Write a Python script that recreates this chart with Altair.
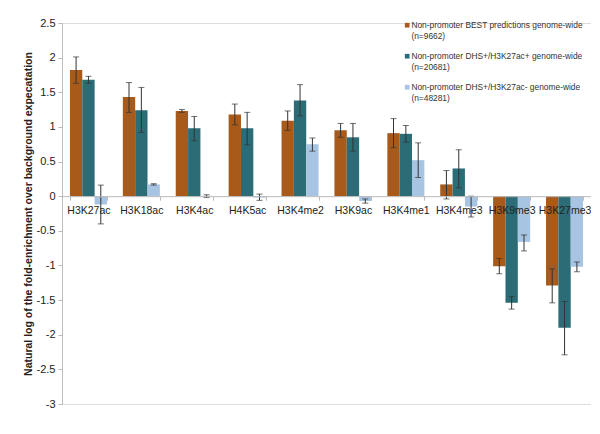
import altair as alt
import pandas as pd

categories = ["H3K27ac", "H3K18ac", "H3K4ac", "H4K5ac", "H3K4me2",
              "H3K9ac", "H3K4me1", "H3K4me3", "H3K9me3", "H3K27me3"]
series = [
    "Non-promoter BEST predictions genome-wide (n=9662)",
    "Non-promoter DHS+/H3K27ac+ genome-wide (n=20681)",
    "Non-promoter DHS+/H3K27ac- genome-wide (n=48281)",
]
colors = ["#A85A1A", "#2B6C77", "#A8C4E3"]
y_ticks = [2.5, 2, 1.5, 1, 0.5, 0, -0.5, -1, -1.5, -2, -2.5, -3]

best_val = [1.82, 1.43, 1.23, 1.18, 1.09, 0.95, 0.91, 0.17, -1.01, -1.29]
best_lo = [1.63, 1.21, 1.21, 1.03, 0.95, 0.85, 0.70, -0.04, -1.12, -1.54]
best_hi = [2.01, 1.64, 1.25, 1.33, 1.23, 1.05, 1.12, 0.37, -0.90, -1.05]

pos_val = [1.68, 1.24, 0.98, 0.98, 1.38, 0.85, 0.90, 0.40, -1.54, -1.90]
pos_lo = [1.63, 0.92, 0.80, 0.74, 1.16, 0.65, 0.78, 0.12, -1.63, -2.29]
pos_hi = [1.73, 1.57, 1.15, 1.21, 1.61, 1.05, 1.02, 0.67, -1.45, -1.52]

neg_val = [-0.12, 0.17, 0.005, -0.02, 0.75, -0.07, 0.52, -0.15, -0.66, -1.02]
neg_lo = [-0.40, 0.16, -0.02, -0.06, 0.65, -0.10, 0.27, -0.30, -0.79, -1.09]
neg_hi = [0.16, 0.18, 0.02, 0.03, 0.84, -0.04, 0.77, 0.00, -0.56, -0.95]

rows = []
for s, vals, los, his in zip(series,
                             [best_val, pos_val, neg_val],
                             [best_lo, pos_lo, neg_lo],
                             [best_hi, pos_hi, neg_hi]):
    for c, v, lo, hi in zip(categories, vals, los, his):
        rows.append({"mark": c, "series": s, "value": v, "lo": lo, "hi": hi})
df = pd.DataFrame(rows)

W, H = 529, 381
y_min, y_max = -3, 2.5
zero_offset = -H * (0 - y_min) / (y_max - y_min)

font = "Liberation Sans"
y_title = "Natural log of the fold-enrichment over background expecatation"

x_axis = alt.Axis(
    labelAngle=0, offset=zero_offset, zindex=1,
    domainColor="#bbbbbb", tickColor="#bbbbbb", tickSize=4,
    tickBand="extent", labelFontSize=10.5, labelColor="#222222",
    labelFont=font, labelPadding=5,
)
y_axis = alt.Axis(
    values=y_ticks, labelExpr="'' + datum.value", grid=False,
    labelOverlap=False, labelFlush=False,
    domainColor="#bbbbbb", tickColor="#bbbbbb", tickSize=4,
    labelFontSize=11, labelColor="#222222", labelFont=font,
    labelPadding=3, titleFont=font, titleFontSize=10.5,
    titleFontWeight="bold", titleColor="#222222", titlePadding=3,
)
x_scale = alt.Scale(paddingInner=0.3, paddingOuter=0.15)
y_scale = alt.Scale(domain=[y_min, y_max], nice=False, zero=False)


def xenc():
    return alt.X("mark:N", sort=categories, title=None, scale=x_scale, axis=x_axis)


def yenc(field):
    return alt.Y(field, scale=y_scale, title=y_title, axis=y_axis)


xoff = alt.XOffset("series:N", sort=series, scale=alt.Scale(paddingInner=0))

bars = alt.Chart(df).mark_bar().encode(
    x=xenc(),
    xOffset=xoff,
    y=yenc("value:Q"),
    y2=alt.datum(0),
    color=alt.Color(
        "series:N", sort=series, title=None,
        scale=alt.Scale(domain=series, range=colors),
        legend=alt.Legend(
            orient="none", legendX=341, legendY=-2,
            symbolType="square", symbolSize=22, symbolStrokeWidth=0,
            labelFontSize=8.4, labelFont=font, labelColor="#333333",
            labelLimit=0, rowPadding=12, labelOffset=0,
            labelExpr="[slice(datum.label, 0, indexof(datum.label, ' (n=')), slice(datum.label, indexof(datum.label, ' (n=') + 1)]",
        ),
    ),
)

rules = alt.Chart(df).mark_rule(color="#333333", strokeWidth=1).encode(
    x=xenc(),
    xOffset=xoff,
    y=yenc("lo:Q"),
    y2="hi:Q",
)
caps_lo = alt.Chart(df).mark_tick(color="#333333", thickness=1, size=6).encode(
    x=xenc(),
    xOffset=xoff,
    y=yenc("lo:Q"),
)
caps_hi = alt.Chart(df).mark_tick(color="#333333", thickness=1, size=6).encode(
    x=xenc(),
    xOffset=xoff,
    y=yenc("hi:Q"),
)

chart = alt.layer(bars, rules, caps_lo, caps_hi).properties(
    width=W, height=H,
    padding={"left": 15, "top": 9, "right": 0, "bottom": 0},
).configure_view(stroke=None).configure(background="white")

chart.save("out.html", embed_options={"renderer": "svg", "actions": False})
